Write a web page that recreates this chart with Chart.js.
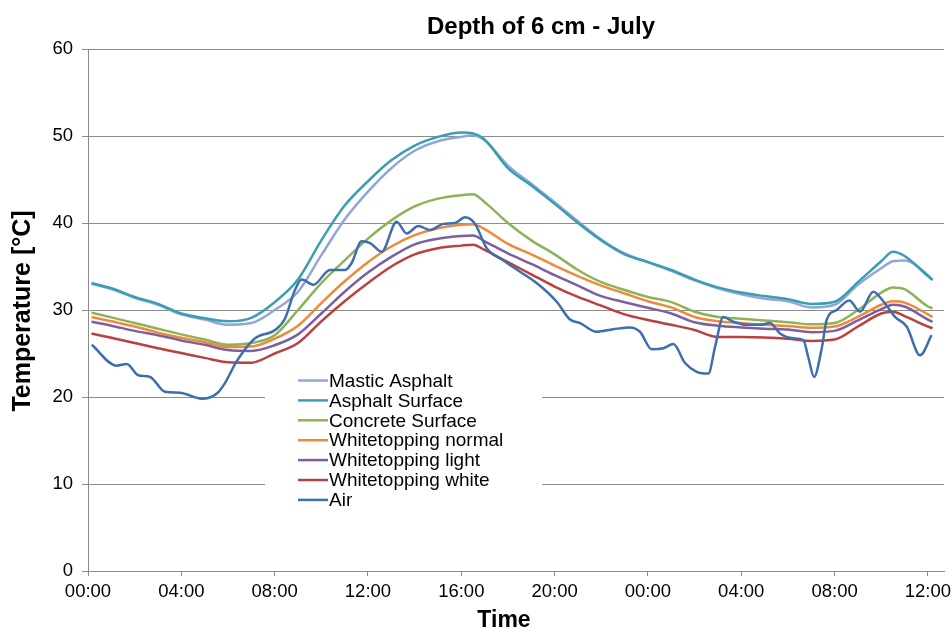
<!DOCTYPE html>
<html><head><meta charset="utf-8">
<script src="https://cdn.jsdelivr.net/npm/chart.js@4.4.1/dist/chart.umd.min.js"></script>
<style>html,body{margin:0;padding:0;background:#fff;}#wrap{width:951px;height:631px;position:relative;}</style>
</head><body><div id="wrap"><canvas id="c" width="951" height="631"></canvas></div>
<script>
const chartTitle = 'Depth of 6 cm - July';
const xTitle = 'Time';
const yTitle = 'Temperature [°C]';

const tickHours = [0, 4, 8, 12, 16, 20, 24, 28, 32, 36];
const tickLabels = ['00:00', '04:00', '08:00', '12:00', '16:00', '20:00', '00:00', '04:00', '08:00', '12:00'];

const seriesNames = ['Mastic Asphalt', 'Asphalt Surface', 'Concrete Surface', 'Whitetopping normal', 'Whitetopping light', 'Whitetopping white', 'Air'];
const seriesColors = ['#8fa8d8', '#3a9db3', '#8db356', '#ee8a3a', '#7b5f9f', '#b9413f', '#3d6eb0'];

// time in hours for the pavement series
const hours = [0.15, 1, 2, 3, 4, 5, 6, 7, 8, 9, 10, 11, 12, 13, 14, 15, 16, 16.5, 17, 18, 19, 20, 21, 22, 23, 24, 25, 26, 27, 28, 29, 30, 31, 32, 33, 34, 34.5, 35, 36, 36.2];

const masticAsphalt = [33.0, 32.4, 31.4, 30.6, 29.5, 28.9, 28.3, 28.5, 30.0, 32.1, 36.3, 40.4, 43.6, 46.3, 48.3, 49.4, 49.9, 50.1, 49.5, 46.6, 44.5, 42.4, 40.2, 38.1, 36.5, 35.5, 34.5, 33.4, 32.5, 31.8, 31.3, 31.0, 30.3, 30.6, 32.9, 34.8, 35.6, 35.7, 34.0, 33.45];
const asphaltSurface = [33.1, 32.5, 31.5, 30.7, 29.6, 29.05, 28.7, 29.1, 30.9, 33.5, 38.0, 42.0, 44.8, 47.2, 48.9, 49.9, 50.4, 50.3, 49.6, 46.3, 44.3, 42.2, 40.0, 38.0, 36.4, 35.5, 34.6, 33.5, 32.6, 32.0, 31.6, 31.25, 30.7, 30.95, 33.2, 35.6, 36.7, 36.2, 33.9, 33.45];
const concreteSurface = [29.7, 29.15, 28.5, 27.85, 27.2, 26.6, 26.0, 26.2, 27.1, 30.0, 33.1, 35.7, 38.2, 40.3, 41.9, 42.8, 43.2, 43.3, 42.4, 40.0, 38.0, 36.4, 34.6, 33.2, 32.3, 31.5, 30.9, 29.8, 29.2, 29.0, 28.8, 28.6, 28.35, 28.5, 30.0, 32.0, 32.6, 32.4, 30.4, 30.2];
const wtNormal = [29.2, 28.7, 28.1, 27.4, 26.8, 26.3, 25.75, 25.8, 26.7, 28.2, 30.8, 33.3, 35.5, 37.3, 38.6, 39.4, 39.8, 39.85, 39.3, 37.6, 36.4, 35.1, 33.9, 32.8, 31.9, 31.0, 30.3, 29.2, 28.7, 28.5, 28.3, 28.15, 27.95, 28.1, 29.2, 30.6, 31.0, 30.85, 29.5, 29.2];
const wtLight = [28.65, 28.2, 27.6, 27.1, 26.5, 26.0, 25.4, 25.3, 25.95, 27.2, 29.6, 32.1, 34.3, 36.1, 37.55, 38.2, 38.5, 38.55, 37.9, 36.5, 35.3, 34.0, 32.8, 31.6, 30.9, 30.25, 29.6, 28.6, 28.2, 28.0, 27.85, 27.75, 27.45, 27.6, 28.8, 30.1, 30.6, 30.4, 28.9, 28.65];
const wtWhite = [27.3, 26.8, 26.2, 25.6, 25.05, 24.5, 24.0, 23.95, 25.0, 26.2, 28.7, 31.0, 33.1, 35.0, 36.4, 37.1, 37.4, 37.5, 36.9, 35.5, 34.1, 32.7, 31.5, 30.5, 29.5, 28.85, 28.3, 27.7, 26.9, 26.9, 26.85, 26.7, 26.45, 26.6, 28.1, 29.6, 29.8, 29.3, 28.1, 27.9];

// air temperature has its own (denser) time samples
const airHours = [0.16, 1.23, 1.66, 2.16, 2.66, 3.30, 3.94, 4.87, 5.52, 5.87, 6.37, 7.16, 8.02, 8.44, 8.87, 9.16, 9.66, 10.37, 11.02, 11.30, 11.73, 12.09, 12.59, 13.23, 13.66, 14.16, 14.66, 15.23, 15.73, 16.16, 16.59, 17.09, 17.80, 18.52, 19.23, 20.09, 20.66, 21.09, 21.80, 22.52, 23.23, 23.66, 24.16, 24.66, 25.09, 25.59, 26.09, 26.59, 26.88, 27.23, 27.66, 28.23, 28.80, 29.23, 29.66, 30.23, 30.66, 30.87, 31.12, 31.45, 31.66, 32.09, 32.63, 33.09, 33.66, 34.09, 34.59, 35.09, 35.66, 36.16];
const airTemps = [26.0, 23.6, 23.8, 22.5, 22.3, 20.6, 20.5, 19.8, 20.4, 21.6, 24.1, 26.75, 27.7, 29.0, 32.3, 33.5, 32.9, 34.6, 34.6, 35.4, 37.9, 37.7, 36.7, 40.15, 38.8, 39.65, 39.2, 39.9, 40.0, 40.65, 39.9, 37.1, 35.7, 34.4, 33.1, 30.95, 28.9, 28.5, 27.5, 27.8, 28.0, 27.5, 25.5, 25.6, 26.1, 23.9, 22.9, 22.7, 25.8, 29.2, 28.65, 28.3, 28.3, 28.5, 27.3, 26.75, 26.55, 24.6, 22.3, 25.6, 28.85, 30.0, 31.1, 29.8, 32.1, 31.0, 29.2, 28.1, 24.8, 27.1];

const FAMILY = '"Liberation Sans", Arial, Helvetica, sans-serif';
const GRID = '#8c8c8c';

const pavement = [masticAsphalt, asphaltSurface, concreteSurface, wtNormal, wtLight, wtWhite];
const datasets = pavement.map((vals, i) => ({
  label: seriesNames[i],
  data: vals.map((v, j) => ({ x: hours[j], y: v })),
  borderColor: seriesColors[i],
  backgroundColor: seriesColors[i],
  borderWidth: 2.5,
  pointRadius: 0,
  cubicInterpolationMode: 'monotone',
  order: 6 - i
}));
datasets.push({
  label: seriesNames[6],
  data: airTemps.map((v, j) => ({ x: airHours[j], y: v })),
  borderColor: seriesColors[6],
  backgroundColor: seriesColors[6],
  borderWidth: 2.5,
  pointRadius: 0,
  cubicInterpolationMode: 'monotone',
  order: 0
});

const decor = {
  id: 'decor',
  afterDraw(chart) {
    const ctx = chart.ctx;
    ctx.save();
    ctx.fillStyle = '#000';
    ctx.textAlign = 'center';
    ctx.textBaseline = 'middle';
    ctx.font = 'bold 24px ' + FAMILY;
    ctx.fillText(chartTitle, 541, 27);
    ctx.font = 'bold 23px ' + FAMILY;
    ctx.fillText(xTitle, 504, 621);
    ctx.save();
    ctx.translate(23, 311);
    ctx.rotate(-Math.PI / 2);
    ctx.font = 'bold 25px ' + FAMILY;
    ctx.fillText(yTitle, 0, 0);
    ctx.restore();
    // legend box
    ctx.fillStyle = '#fff';
    ctx.fillRect(265, 367, 277, 145);
    ctx.font = '19px ' + FAMILY;
    ctx.textAlign = 'left';
    seriesNames.forEach((name, i) => {
      const y = 380.5 + i * 19.9;
      ctx.strokeStyle = seriesColors[i];
      ctx.lineWidth = 2.5;
      ctx.beginPath();
      ctx.moveTo(298, y);
      ctx.lineTo(328, y);
      ctx.stroke();
      ctx.fillStyle = '#000';
      ctx.fillText(name, 329, y + 1);
    });
    ctx.restore();
  }
};

new Chart(document.getElementById('c'), {
  type: 'line',
  data: { datasets },
  plugins: [decor],
  options: {
    responsive: false,
    animation: false,
    devicePixelRatio: 1,
    layout: { padding: { left: 0, top: 49, right: 7, bottom: 0 } },
    plugins: { legend: { display: false }, title: { display: false }, tooltip: { enabled: false } },
    scales: {
      x: {
        type: 'linear', min: 0, max: 36.69,
        afterBuildTicks: s => { s.ticks = tickHours.map(v => ({ value: v })); },
        ticks: { callback: (v, i) => tickLabels[i], font: { size: 18.5, family: FAMILY }, color: '#000', padding: 5, maxRotation: 0, autoSkip: false },
        grid: { drawOnChartArea: false, drawTicks: true, tickLength: 5, color: GRID },
        border: { color: GRID, width: 1 },
        afterFit: s => { s.height = 60; s.paddingLeft = 0; s.paddingRight = 0; }
      },
      y: {
        min: 0, max: 60,
        ticks: { stepSize: 10, font: { size: 18.5, family: FAMILY }, color: '#000', padding: 9 },
        grid: { color: GRID, tickLength: 6 },
        border: { color: GRID, width: 1 },
        afterFit: s => { s.width = 88; s.paddingTop = 0; s.paddingBottom = 0; }
      }
    }
  }
});
</script>
</body></html>
